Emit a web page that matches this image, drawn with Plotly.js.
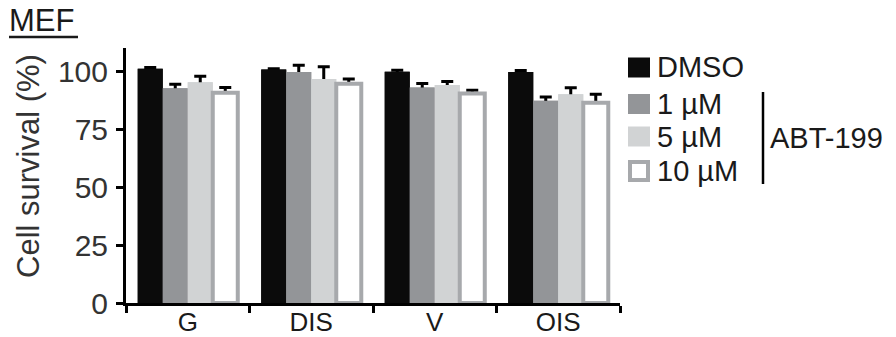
<!DOCTYPE html>
<html>
<head>
<meta charset="utf-8">
<script src="https://cdn.plot.ly/plotly-3.0.1.min.js"></script>
<style>html,body{margin:0;padding:0;background:#fff;}#chart{width:896px;height:337px;}</style>
</head>
<body>
<div id="chart"></div>
<script>
// ---- data ----
const categories = ["G", "DIS", "V", "OIS"];
const seriesNames = ["DMSO", "1 µM", "5 µM", "10 µM"];
const dmso   = [101.0, 100.7, 99.8, 99.7];
const abt1   = [92.6, 99.6, 93.0, 87.2];
const abt5   = [95.2, 96.6, 94.0, 90.1];
const abt10  = [90.7, 94.6, 90.4, 86.4];
const dmsoErr  = [0.6, 0.4, 0.6, 0.6];
const abt1Err  = [1.8, 3.0, 1.7, 1.7];
const abt5Err  = [2.6, 5.3, 1.6, 2.7];
const abt10Err = [2.3, 2.0, 1.4, 3.7];
const yTicks = [0, 25, 50, 75, 100];
const groupLabel = "ABT-199";
const panelLabel = "MEF";
const yTitle = "Cell survival (%)";

// ---- styles ----
const FONT = "Liberation Sans, Arial, Helvetica, sans-serif";
const TXT = "#1a1a1a";
const fills = ["#0b0b0b", "#939598", "#d1d3d4", "#ffffff"];
const lines = ["#0b0b0b", "#939598", "#d1d3d4", "#a7a9ac"];
const lineW = [0, 0, 0, 4];
const vals = [dmso, abt1, abt5, abt10];
const errs = [dmsoErr, abt1Err, abt5Err, abt10Err];

// error-bar carriers (lower whisker runs down to 0 and is covered by the bars drawn after)
const errTraces = vals.map((v, i) => ({
  type: "bar",
  name: seriesNames[i] + " err",
  x: categories,
  y: v,
  offsetgroup: String(i),
  marker: { color: fills[i], line: { width: 0 } },
  error_y: {
    type: "data", symmetric: false, array: errs[i],
    arrayminus: v, color: "#000", thickness: 3, width: 6
  },
  showlegend: false,
  hoverinfo: "skip"
}));
const barTraces = vals.map((v, i) => ({
  type: "bar",
  name: seriesNames[i],
  x: categories,
  y: v,
  offsetgroup: String(i),
  marker: { color: fills[i], line: { color: lines[i], width: lineW[i] } },
  showlegend: false,
  hoverinfo: "skip"
}));
const traces = errTraces.concat(barTraces);

// pixel -> paper helpers (plot area: x 126..620, y 48..303)
const L = 126, R = 620, T = 48, B = 303;
const px = x => (x - L) / (R - L);
const py = y => (B - y) / (B - T);

const shapes = [];
const annotations = [];
const legY = [67.5, 104, 136.5, 171];
seriesNames.forEach((n, i) => {
  const c = legY[i];
  if (i === 3) {
    shapes.push({ type: "rect", xref: "paper", yref: "paper",
      x0: px(630), x1: px(648), y0: py(c - 9), y1: py(c + 9),
      fillcolor: "#fff", line: { color: lines[i], width: 4 } });
  } else {
    shapes.push({ type: "rect", xref: "paper", yref: "paper",
      x0: px(628), x1: px(650), y0: py(c - 10), y1: py(c + 10),
      fillcolor: fills[i], line: { width: 0 } });
  }
  annotations.push({ xref: "paper", yref: "paper", x: px(655), y: py(c),
    xanchor: "left", yanchor: "middle", showarrow: false, text: n,
    font: { family: FONT, size: 29, color: TXT } });
});
// bracket for ABT-199
shapes.push({ type: "line", xref: "paper", yref: "paper",
  x0: px(763), x1: px(763), y0: py(92), y1: py(184),
  line: { color: "#000", width: 2.5 } });
annotations.push({ xref: "paper", yref: "paper", x: px(768), y: py(137.5),
  xanchor: "left", yanchor: "middle", showarrow: false, text: groupLabel,
  font: { family: FONT, size: 29, color: TXT } });
// panel label
annotations.push({ xref: "paper", yref: "paper", x: px(7), y: py(21),
  xanchor: "left", yanchor: "middle", showarrow: false, text: panelLabel,
  font: { family: FONT, size: 31, color: TXT } });
shapes.push({ type: "line", xref: "paper", yref: "paper",
  x0: px(9), x1: px(78), y0: py(37), y1: py(37),
  line: { color: TXT, width: 2.5 } });
// y title
annotations.push({ xref: "paper", yref: "paper", x: px(28), y: py(166),
  xanchor: "center", yanchor: "middle", showarrow: false, text: yTitle,
  textangle: -90, font: { family: FONT, size: 31, color: "#333" } });

const layout = {
  width: 896, height: 337,
  margin: { l: L, r: 896 - R, t: T, b: 337 - B, pad: 0 },
  paper_bgcolor: "#fff", plot_bgcolor: "#fff",
  barmode: "group", bargap: 0.19, bargroupgap: 0,
  font: { family: FONT, color: TXT },
  xaxis: {
    type: "category", range: [-0.5, 3.5],
    showline: true, linecolor: "#000", linewidth: 3,
    ticks: "outside", tickson: "boundaries", ticklen: 7, tickwidth: 3, tickcolor: "#000",
    ticklabelstandoff: -6,
    tickfont: { family: FONT, size: 26, color: TXT },
    showgrid: false, zeroline: false, fixedrange: true
  },
  yaxis: {
    range: [0, 110], tickvals: yTicks, ticktext: yTicks.map(String),
    showline: true, linecolor: "#000", linewidth: 3,
    ticks: "outside", ticklen: 7, tickwidth: 3, tickcolor: "#000",
    ticklabelstandoff: 2,
    tickfont: { family: FONT, size: 30, color: "#333" },
    showgrid: false, zeroline: false, fixedrange: true
  },
  shapes: shapes,
  annotations: annotations,
  showlegend: false
};

Plotly.newPlot("chart", traces, layout, { staticPlot: true, displayModeBar: false });
</script>
</body>
</html>
